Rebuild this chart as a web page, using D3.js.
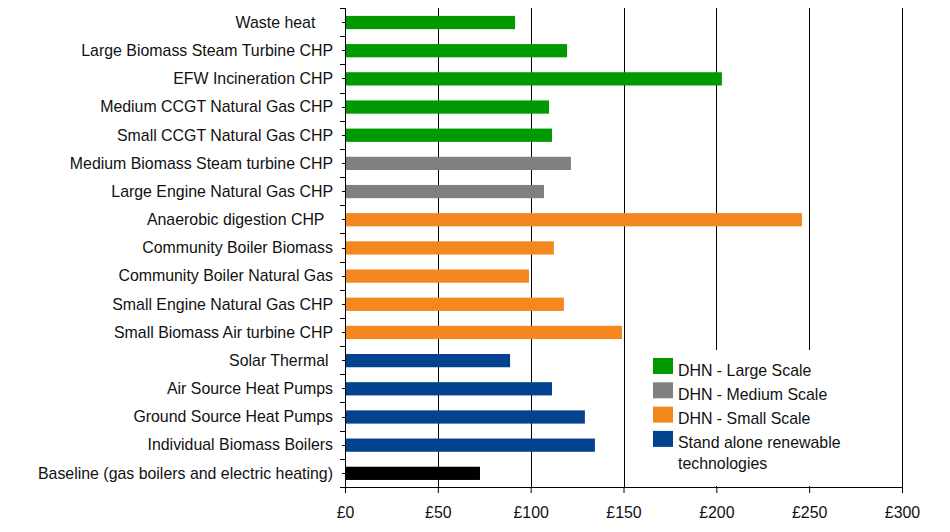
<!DOCTYPE html>
<html><head><meta charset="utf-8">
<script src="https://cdn.jsdelivr.net/npm/d3@7"></script>
<style>body{margin:0;background:#fff}svg{display:block}text{font-family:"Liberation Sans",Arial,sans-serif}</style>
</head><body><svg id="c" width="950" height="532"></svg>
<script>
const categories = ["Waste heat    ","Large Biomass Steam Turbine CHP","EFW Incineration CHP","Medium CCGT Natural Gas CHP","Small CCGT Natural Gas CHP","Medium Biomass Steam turbine CHP","Large Engine Natural Gas CHP","Anaerobic digestion CHP  ","Community Boiler Biomass","Community Boiler Natural Gas","Small Engine Natural Gas CHP","Small Biomass Air turbine CHP","Solar Thermal ","Air Source Heat Pumps","Ground Source Heat Pumps","Individual Biomass Boilers","Baseline (gas boilers and electric heating)"];
const values = [91.6,119.6,203,109.9,111.5,121.7,107.2,246.1,112.5,99.1,117.9,149.2,88.9,111.5,129.2,134.6,72.7];
const groups = ["large","large","large","large","large","medium","medium","small","small","small","small","small","solo","solo","solo","solo","base"];
const groupKeys = ["large","medium","small","solo","base"];
const groupColors = ["#009900","#808080","#F5871F","#03428F","#000000"];
const legendLabels = [["DHN - Large Scale"],["DHN - Medium Scale"],["DHN - Small Scale"],["Stand alone renewable","technologies"]];
const xTicks = [0,50,100,150,200,250,300];

const svg = d3.select("#c");
const L=345,R=902,T=8,B=487;
const x = d3.scaleLinear().domain([0,300]).range([L,R]);
const color = d3.scaleOrdinal().domain(groupKeys).range(groupColors);
const band = (B-T)/categories.length;
const FS = 15.9;

// gridlines
svg.append("g").selectAll("line").data(xTicks.slice(1)).join("line")
  .attr("x1",d=>Math.round(x(d))+0.5).attr("x2",d=>Math.round(x(d))+0.5)
  .attr("y1",T).attr("y2",B).attr("stroke","#000").attr("stroke-width",1);

// bars
svg.append("g").selectAll("rect").data(values).join("rect")
  .attr("x",x(0)).attr("y",(d,i)=>T+band*i+band*0.28)
  .attr("width",d=>x(d)-x(0)).attr("height",band*0.47)
  .attr("fill",(d,i)=>color(groups[i]));

// y axis
const ya = svg.append("g");
ya.append("line").attr("x1",L+0.5).attr("x2",L+0.5).attr("y1",T).attr("y2",B).attr("stroke","#000");
ya.selectAll("line.b").data(d3.range(categories.length+1)).join("line").attr("class","b")
  .attr("x1",L-5).attr("x2",L).attr("y1",i=>Math.round(T+band*i)+0.5).attr("y2",i=>Math.round(T+band*i)+0.5).attr("stroke","#000");
ya.selectAll("line.m").data(d3.range(categories.length)).join("line").attr("class","m")
  .attr("x1",L-3).attr("x2",L).attr("y1",i=>Math.round(T+band*(i+0.5))+0.5).attr("y2",i=>Math.round(T+band*(i+0.5))+0.5).attr("stroke","#000");
ya.selectAll("text").data(categories).join("text")
  .attr("x",333).attr("y",(d,i)=>T+band*(i+0.5)).attr("dy","0.36em")
  .attr("text-anchor","end").attr("font-size",FS).attr("fill","#111")
  .style("white-space","pre").text(d=>d);

// x axis
const xa = svg.append("g").attr("transform",`translate(0,${B})`)
  .call(d3.axisBottom(x).tickValues(xTicks).tickSize(6).tickFormat(d=>"£"+d));
xa.select(".domain").attr("stroke","#000").attr("d",`M${L},0.5H${R+0.5}`);
xa.selectAll(".tick line").attr("stroke","#000");
xa.selectAll("text").attr("font-size",FS).attr("fill","#111").attr("font-family","Liberation Sans, Arial, sans-serif").attr("y",20);

// legend (white background hides gridlines)
svg.append("rect").attr("x",632).attr("y",350).attr("width",263).attr("height",136).attr("fill","#fff");
const lg = svg.append("g").attr("transform","translate(653,358)");
legendLabels.forEach((lab,i)=>{
  const g = lg.append("g").attr("transform",`translate(0,${i*24.3})`);
  g.append("rect").attr("width",20).attr("height",16).attr("fill",groupColors[i]);
  lab.forEach((t,j)=>g.append("text").attr("x",25).attr("y",17.5+j*21).attr("font-size",FS).attr("fill","#111").text(t));
});
</script></body></html>
